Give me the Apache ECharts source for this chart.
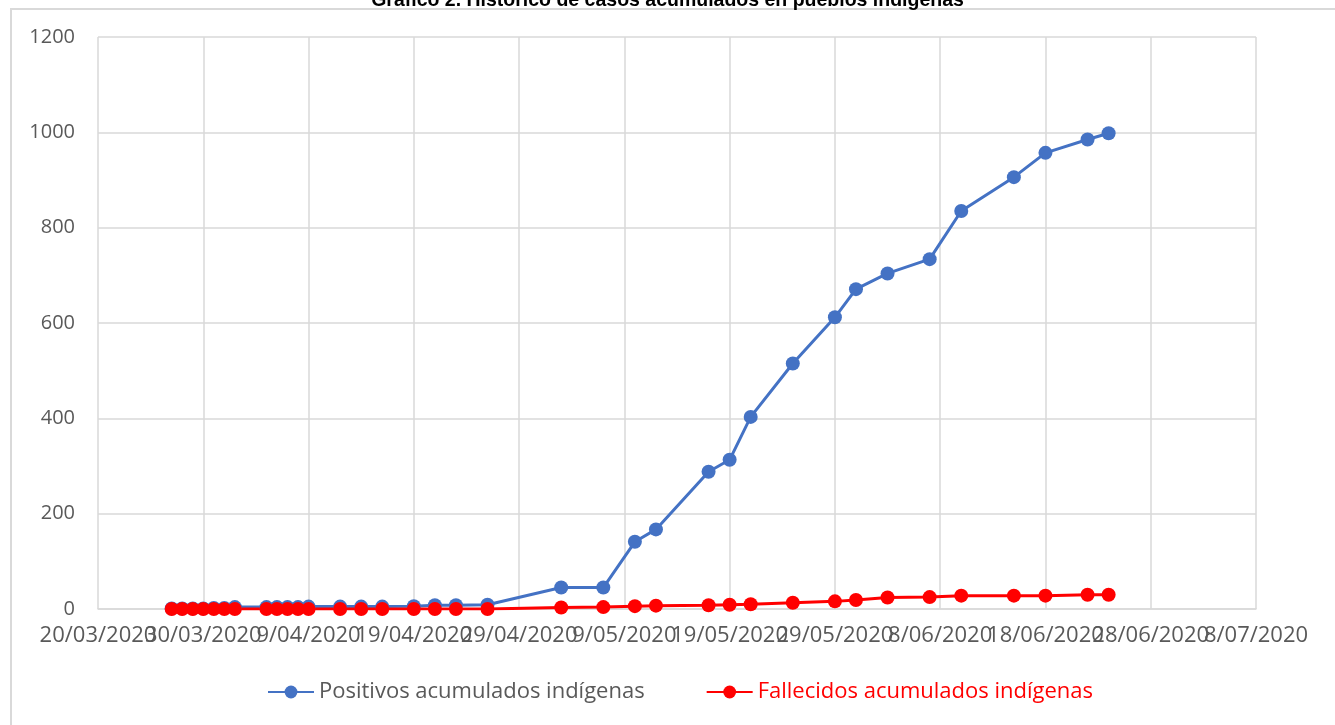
<!DOCTYPE html>
<html>
<head>
<meta charset="utf-8">
<script src="https://cdn.jsdelivr.net/npm/echarts@6/dist/echarts.min.js"></script>
<style>
    html, body { margin: 0; padding: 0; background: #fff; }
    #chart { width: 1335px; height: 725px; }
</style>
</head>
<body>
<div id="chart"></div>
<script>
var fechas = ['2020-03-27', '2020-03-28', '2020-03-29', '2020-03-30', '2020-03-31', '2020-04-01', '2020-04-02',
    '2020-04-05', '2020-04-06', '2020-04-07', '2020-04-08', '2020-04-09',
    '2020-04-12', '2020-04-14', '2020-04-16',
    '2020-04-19', '2020-04-21', '2020-04-23', '2020-04-26',
    '2020-05-03', '2020-05-07', '2020-05-10', '2020-05-12', '2020-05-17', '2020-05-19', '2020-05-21',
    '2020-05-25', '2020-05-29', '2020-05-31', '2020-06-03', '2020-06-07', '2020-06-10',
    '2020-06-15', '2020-06-18', '2020-06-22', '2020-06-24'];

var positivos = [1, 1, 1, 1, 2, 2, 4,
    4, 4, 4, 4, 5,
    5, 5, 5,
    6, 8, 8, 9,
    45, 45, 141, 167, 288, 313, 403,
    515, 612, 671, 704, 734, 835,
    906, 957, 985, 998];

var fallecidos = [0, 0, 0, 0, 0, 0, 0,
    0, 0, 0, 0, 0,
    0, 0, 0,
    0, 0, 0, 0,
    3, 4, 6, 7, 8, 9, 10,
    13, 16, 19, 24, 25, 28,
    28, 28, 30, 30];

// eje de fechas en numero de serie (como Excel): 20/03/2020 = 43910
var ejeInicio = '2020-03-20';
var ejeFin = '2020-07-08';
var diasEntreMarcas = 10;

var titulo = 'Gráfico 2. Histórico de casos acumulados en pueblos indígenas';
var nombres = ['Positivos acumulados indígenas', 'Fallecidos acumulados indígenas'];

function serial(fecha) {
    var p = fecha.split('-');
    return Date.UTC(+p[0], +p[1] - 1, +p[2]) / 86400000 + 25569;
}

function etiquetaFecha(v) {
    var d = new Date((v - 25569) * 86400000);
    var mm = d.getUTCMonth() + 1;
    return d.getUTCDate() + '/' + (mm < 10 ? '0' + mm : mm) + '/' + d.getUTCFullYear();
}

// las etiquetas se pisan como en Excel: se reparten en dos ejes (pares / impares)
// para que echarts no oculte ninguna
function etiquetaAlterna(paridad) {
    return function (v) {
        var n = Math.round((v - serial(ejeInicio)) / diasEntreMarcas);
        return n % 2 === paridad ? etiquetaFecha(v) : '';
    };
}

function pares(valores) {
    return fechas.map(function (f, i) {
        return [serial(f), valores[i]];
    });
}

var gris = '#d9d9d9';
var texto = '#595959';
var fuente = 'Open Sans';

function ejeX(paridad, visible) {
    return {
        type: 'value',
        position: 'bottom',
        min: serial(ejeInicio),
        max: serial(ejeFin),
        interval: diasEntreMarcas,
        axisLine: { show: visible, lineStyle: { color: gris, width: 1.5 } },
        axisTick: { show: false },
        axisLabel: {
            margin: 16,
            fontFamily: fuente,
            fontSize: 22,
            color: texto,
            formatter: etiquetaAlterna(paridad),
            showMinLabel: true,
            showMaxLabel: true
        },
        splitLine: { show: visible, lineStyle: { color: gris, width: 1.5 } }
    };
}

var chart = echarts.init(document.getElementById('chart'));

chart.setOption({
    animation: false,
    backgroundColor: '#fff',
    title: {
        text: titulo,
        left: 'center',
        top: -14,
        textStyle: { fontFamily: 'Liberation Sans', fontWeight: 'bold', fontSize: 19.5, color: '#000' }
    },
    graphic: [{
        type: 'rect',
        shape: { x: 11, y: 9, width: 1400, height: 800 },
        style: { fill: 'none', stroke: gris, lineWidth: 2 },
        z: -1
    }],
    grid: { left: 98, right: 79, top: 37, bottom: 116 },
    legend: {
        left: 262,
        top: 676,
        itemGap: 61,
        itemWidth: 46,
        itemHeight: 16,
        textStyle: { fontFamily: fuente, fontSize: 22, color: texto },
        data: [
            { name: nombres[0] },
            { name: nombres[1], textStyle: { color: '#FF0000' } }
        ]
    },
    xAxis: [ejeX(0, true), ejeX(1, false)],
    yAxis: {
        type: 'value',
        min: 0,
        max: 1200,
        interval: 200,
        axisLine: { show: false },
        axisTick: { show: false },
        axisLabel: {
            margin: 23,
            fontFamily: fuente,
            fontSize: 20,
            color: texto,
            formatter: function (v) { return String(v); }
        },
        splitLine: { lineStyle: { color: gris, width: 1.5 } }
    },
    series: [{
        name: nombres[0],
        type: 'line',
        xAxisIndex: 0,
        data: pares(positivos),
        symbol: 'circle',
        symbolSize: 14,
        lineStyle: { color: '#4472C4', width: 3 },
        itemStyle: { color: '#4472C4' }
    }, {
        name: nombres[1],
        type: 'line',
        xAxisIndex: 0,
        data: pares(fallecidos),
        symbol: 'circle',
        symbolSize: 14,
        lineStyle: { color: '#FF0000', width: 3 },
        itemStyle: { color: '#FF0000' }
    }]
});
</script>
</body>
</html>
